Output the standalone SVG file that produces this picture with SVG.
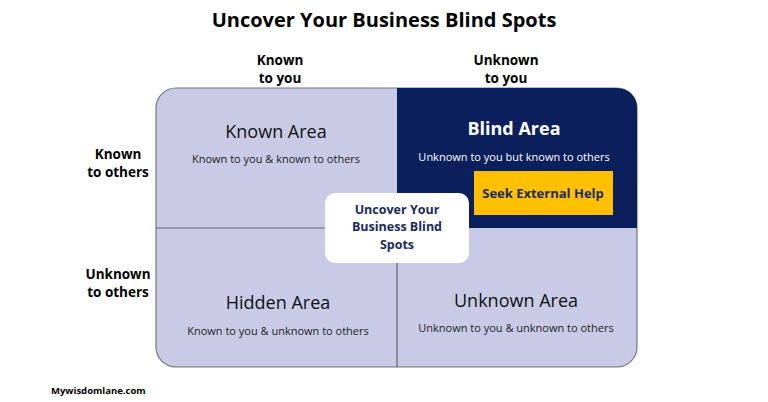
<svg xmlns="http://www.w3.org/2000/svg" width="768" height="402" viewBox="0 0 768 402">
<style>
.h{font-family:"Open Sans",sans-serif;font-weight:bold;fill:#000;text-anchor:middle}
.t{font-family:"Open Sans",sans-serif;font-size:18px;fill:#111;text-anchor:middle}
.s{font-family:"Open Sans",sans-serif;font-size:11px;fill:#222;text-anchor:middle}
</style>
<rect width="768" height="402" fill="#fff"/>
<text class="h" x="384" y="27" font-size="20">Uncover Your Business Blind Spots</text>
<g class="h" font-size="13.5">
<text x="280" y="65">Known</text><text x="280" y="83">to you</text>
<text x="506" y="65">Unknown</text><text x="506" y="83">to you</text>
<text x="118" y="159">Known</text><text x="118" y="177">to others</text>
<text x="118" y="279">Unknown</text><text x="118" y="297">to others</text>
</g>
<g id="grid">
<rect x="156" y="88" width="481" height="279" rx="20" fill="#c9cbe6" stroke="#777" stroke-width="1.2"/>
<path d="M397 88 H617 A20 20 0 0 1 637 108 V228 H397 Z" fill="#0b1f5c"/>
</g>
<g id="connectors" stroke="#666" stroke-width="1.2">
<line x1="156" y1="228" x2="397" y2="228"/>
<line x1="397" y1="228" x2="397" y2="367"/>
</g>
<g id="known"><text class="t" x="276" y="138">Known Area</text><text class="s" x="276" y="163">Known to you &amp; known to others</text></g>
<g id="blind"><text class="t" x="514" y="135" fill="#fff" font-weight="bold" style="fill:#fff">Blind Area</text><text class="s" x="514" y="161" style="fill:#fff">Unknown to you but known to others</text></g>
<g id="seek"><rect x="474" y="171" width="139" height="44" fill="#ffc000"/><text x="543" y="198" font-family="Open Sans,sans-serif" font-weight="bold" font-size="13" fill="#1a2a5c" text-anchor="middle">Seek External Help</text></g>
<g id="hidden"><text class="t" x="278" y="309">Hidden Area</text><text class="s" x="278" y="335">Known to you &amp; unknown to others</text></g>
<g id="unknown"><text class="t" x="516" y="307">Unknown Area</text><text class="s" x="516" y="332">Unknown to you &amp; unknown to others</text></g>
<g id="center"><rect x="325" y="193" width="144" height="70" rx="10" fill="#fff"/>
<g font-family="Open Sans,sans-serif" font-weight="bold" font-size="12.5" fill="#1a2a5c" text-anchor="middle">
<text x="397" y="214">Uncover Your</text><text x="397" y="231">Business Blind</text><text x="397" y="249">Spots</text></g></g>
<text x="51" y="394" font-family="Open Sans,sans-serif" font-weight="bold" font-size="9.5" fill="#000">Mywisdomlane.com</text>
</svg>
